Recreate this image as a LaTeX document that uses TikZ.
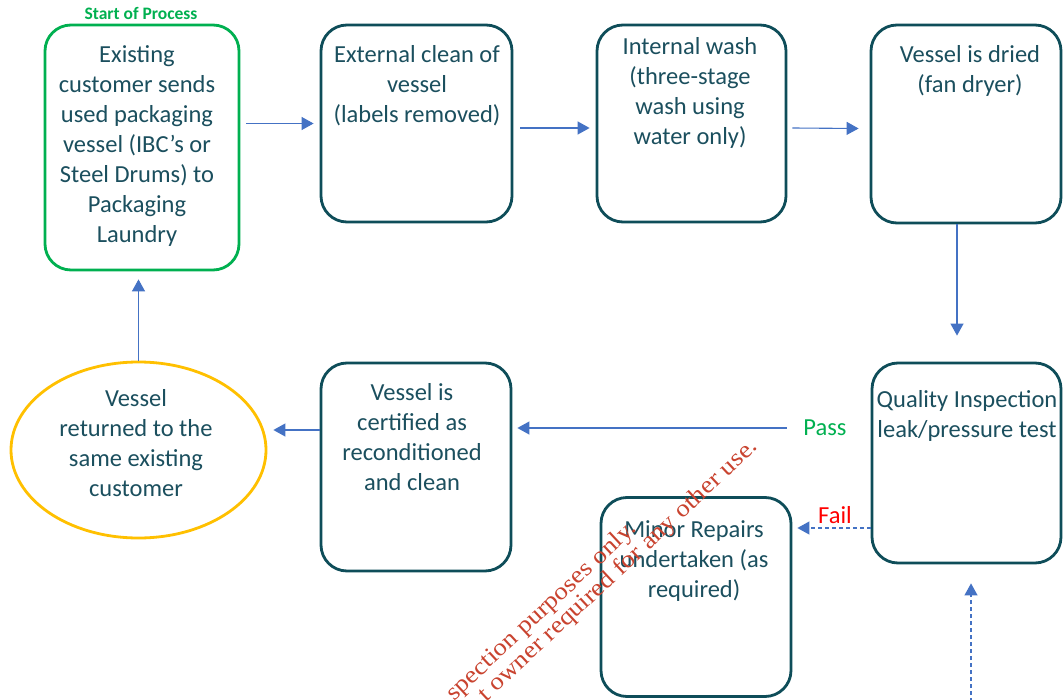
\documentclass[tikz,border=0pt]{standalone}
\usepackage{fontspec}
\setmainfont{Carlito}
\newfontfamily\wmfont[FakeStretch=1.12]{Liberation Serif}
\usetikzlibrary{shapes.geometric,arrows.meta,calc}
\definecolor{boxc}{HTML}{0E4D59}
\definecolor{txtc}{HTML}{1B4F5E}
\definecolor{arrc}{HTML}{4472C4}
\definecolor{grn}{HTML}{00B050}
\definecolor{yel}{HTML}{FFC000}
\definecolor{wmc}{HTML}{C9432F}
\tikzset{
  box/.style={draw=boxc, line width=2.8pt, rounded corners=26pt, inner sep=0pt, fill=white},
  startbox/.style={box, draw=grn},
  ovalbox/.style={ellipse, draw=yel, line width=2.8pt, inner sep=0pt},
  txt/.style={text=txtc, align=center, inner sep=0pt, anchor=north, font=\fontsize{24.5}{30}\selectfont},
  lbl/.style={inner sep=0pt, anchor=base, font=\fontsize{24.5}{30}\selectfont},
  arr/.style={draw=arrc, line width=1.1pt, -{Triangle[length=12pt,width=13pt]}},
  darr/.style={arr, dash pattern=on 4pt off 3pt},
  wm/.style={text=wmc, inner sep=0pt, anchor=base east, rotate=43, font=\wmfont\fontsize{24}{28}\selectfont}
}
\begin{document}
\begin{tikzpicture}[x=1pt,y=-1pt]
\useasboundingbox[fill=white] (0,0) rectangle (1064,700);
% boxes
\node[startbox, minimum width=194pt, minimum height=245pt] (start) at (142,147.5) {};
\node[box, minimum width=191pt, minimum height=197pt] (ext) at (416.5,123.5) {};
\node[box, minimum width=189pt, minimum height=197pt] (int) at (691.5,123.5) {};
\node[box, minimum width=190pt, minimum height=198pt] (dry) at (966,124) {};
\node[box, minimum width=189pt, minimum height=200pt] (qi) at (966.5,463) {};
\node[box, minimum width=190pt, minimum height=208pt] (cert) at (416,467) {};
\node[box, minimum width=190pt, minimum height=199pt] (minor) at (696,597) {};
\node[ovalbox, minimum width=255pt, minimum height=176pt] (ell) at (138.5,450) {};
% texts
\node[txt] (startT) at (137,41) {\strut Existing\\customer sends\\used packaging\\vessel (IBC’s or\\Steel Drums) to\\Packaging\\Laundry};
\node[txt] (extT) at (417,41) {\strut External clean of\\vessel\\(labels removed)};
\node[txt] (intT) at (690,33) {\strut Internal wash\\(three-stage\\wash using\\water only)};
\node[txt] (dryT) at (970,41) {\strut Vessel is dried\\(fan dryer)};
\node[txt] (qiT) at (967,386) {\strut Quality Inspection\\leak/pressure test};
\node[txt] (certT) at (412,379) {\strut Vessel is\\certified as\\reconditioned\\and clean};
\node[txt] (minorT) at (694,516) {\strut Minor Repairs\\undertaken (as\\required)};
\node[txt] (ellT) at (136,385) {\strut Vessel\\returned to the\\same existing\\customer};
% labels
\node[lbl, text=grn, font=\bfseries\fontsize{17.5}{20}\selectfont] (sop) at (141,20) {Start of Process};
\node[lbl, text=grn] (pass) at (825,435) {Pass};
\node[lbl, text=red] (fail) at (835,523) {Fail};
% connectors
\draw[arr] ([xshift=6pt]start.east |- ext.west) -- ([xshift=-6pt]ext.west);
\draw[arr] ([xshift=7pt,yshift=-4.5pt]ext.east) -- ([xshift=-6pt,yshift=-4.5pt]int.west);
\draw[arr] ([xshift=5pt,yshift=-4.5pt]int.east) -- ([xshift=-11pt,yshift=-4.5pt]dry.west);
\draw[arr] ([xshift=-9pt]dry.south) -- ([xshift=-9.5pt,yshift=26pt]qi.north);
\draw[arr] ($(qi.west)+(-84,-35)$) -- ($(cert.east)+(5,-39)$);
\draw[arr] ($(cert.west)+(0,-37)$) -- ($(ell.east)+(6,-20)$);
\draw[arr] (ell.north) -- ([yshift=-8pt]ell.north |- start.south);
\draw[darr] ($(qi.west)+(0,65)$) -- ($(minor.east)+(5,-69)$);
\coordinate (bot) at (971,702);
\draw[darr] (bot) -- ($(qi.south)+(4.5,19)$);
% watermark
\node[wm] (wm1) at (638,530) {spection purposes only.};
\node[wm] (wm2) at (759,448) {t owner required for any other use.};
\end{tikzpicture}
\end{document}
